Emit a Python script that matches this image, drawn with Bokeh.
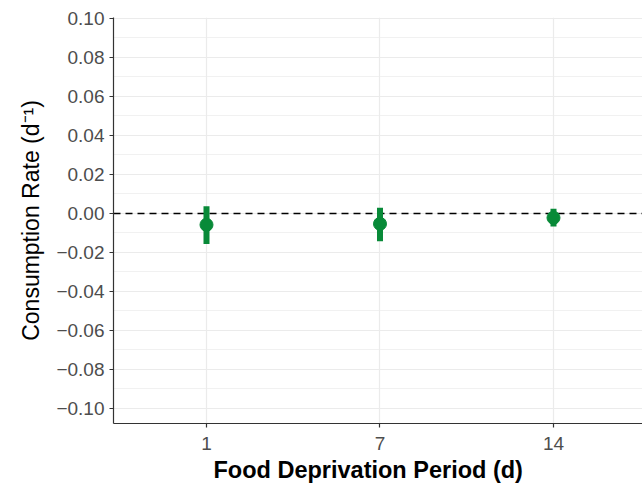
from bokeh.plotting import figure
from bokeh.models import Range1d, FixedTicker, CustomJSTickFormatter, Span, ColumnDataSource, Title
from bokeh.embed import file_html
from bokeh.resources import INLINE

# ---- data ----
days = ["1", "7", "14"]
rate = [-0.0058, -0.0053, -0.0022]
lower = [-0.0156, -0.0142, -0.0067]
upper = [0.0037, 0.0029, 0.0024]
y_ticks = [-0.10, -0.08, -0.06, -0.04, -0.02, 0.00, 0.02, 0.04, 0.06, 0.08, 0.10]
y_minor = [-0.09, -0.07, -0.05, -0.03, -0.01, 0.01, 0.03, 0.05, 0.07, 0.09]

xpos = list(range(1, len(days) + 1))
src = ColumnDataSource(dict(x=xpos, rate=rate, lower=lower, upper=upper))

GREEN = "#088A38"
FONT = "Liberation Sans"

p = figure(width=642, height=486,
           x_range=Range1d(0.464, 3.513), y_range=Range1d(-0.1077, 0.1005),
           output_backend="svg", toolbar_location=None,
           min_border_left=113, min_border_right=0, min_border_top=17, min_border_bottom=63)
p.outline_line_color = None
p.background_fill_color = "white"
p.border_fill_color = "white"

# grids
p.xgrid.ticker = FixedTicker(ticks=xpos)
p.ygrid.ticker = FixedTicker(ticks=y_ticks, minor_ticks=y_minor)
for g in (p.xgrid[0], p.ygrid[0]):
    g.grid_line_color = "#EBEBEB"
    g.grid_line_width = 1.2
p.ygrid[0].minor_grid_line_color = "#EBEBEB"
p.ygrid[0].minor_grid_line_width = 0.7

# zero line
p.add_layout(Span(location=0, dimension="width", line_color="black",
                  line_dash="7 5", line_width=1.3, level="underlay"))

# error bars and points
p.segment(x0="x", y0="lower", x1="x", y1="upper", source=src,
          line_color=GREEN, line_width=6)
p.scatter(x="x", y="rate", source=src, size=13, fill_color=GREEN, line_color=GREEN)

# x axis
xa = p.xaxis[0]
xa.ticker = FixedTicker(ticks=xpos)
xa.formatter = CustomJSTickFormatter(args=dict(labels=days),
                                     code="return labels[Math.round(tick) - 1];")
xtitle = Title(text="Food Deprivation Period (d)", align="left", offset=100,
               text_font=FONT, text_font_style="bold", text_font_size="23.5px",
               text_color="black", standoff=5)
p.add_layout(xtitle, "below")

# y axis
ya = p.yaxis[0]
ya.ticker = FixedTicker(ticks=y_ticks, minor_ticks=y_minor)
ya.formatter = CustomJSTickFormatter(
    code="const v = Math.abs(tick) < 1e-9 ? 0 : tick; return (v < 0 ? '\u2212' : '') + Math.abs(v).toFixed(2);")
ya.axis_label = "Consumption Rate (d\u207b\u00b9)"
ya.axis_label_text_font = FONT
ya.axis_label_text_font_style = "normal"
ya.axis_label_text_font_size = "23px"
ya.axis_label_text_color = "black"
ya.axis_label_standoff = 9

for ax in (xa, ya):
    ax.axis_line_color = "#333333"
    ax.axis_line_width = 1.2
    ax.major_tick_line_color = "#333333"
    ax.major_tick_line_width = 1.2
    ax.major_tick_out = 4
    ax.major_tick_in = 0
    ax.minor_tick_line_color = None
    ax.major_label_text_font = FONT
    ax.major_label_text_font_size = "19px"
    ax.major_label_text_color = "#4D4D4D"
xa.major_label_standoff = 9
ya.major_label_standoff = 5

open("out.html", "w").write(file_html(p, INLINE))
